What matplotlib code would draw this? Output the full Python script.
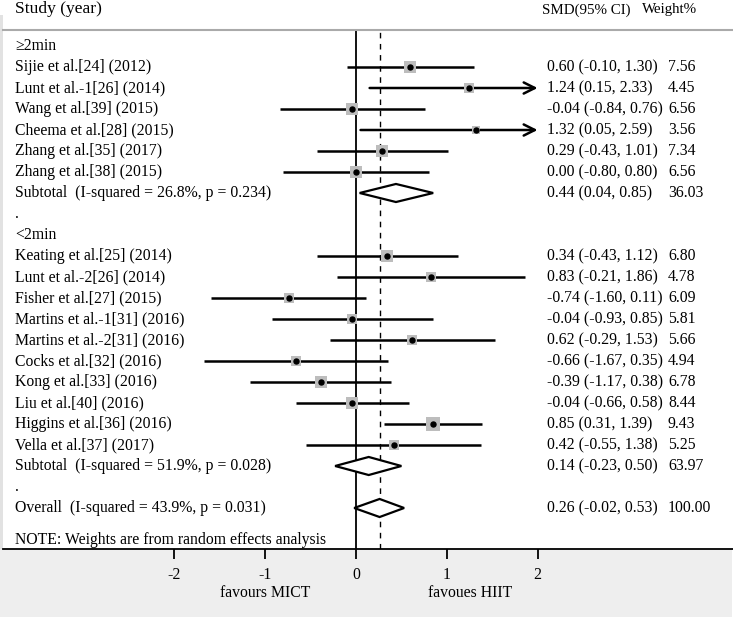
import matplotlib
matplotlib.use("Agg")
import matplotlib.pyplot as plt
from matplotlib.patches import Polygon, Rectangle
import numpy as np

plt.rcParams['font.family'] = ['Liberation Serif', 'DejaVu Serif']

# study level data, group >=2min
g1_names = ["Sijie et al.[24] (2012)", "Lunt et al.-1[26] (2014)", "Wang et al.[39] (2015)",
            "Cheema et al.[28] (2015)", "Zhang et al.[35] (2017)", "Zhang et al.[38] (2015)"]
g1_est = [0.60, 1.24, -0.04, 1.32, 0.29, 0.00]
g1_lo = [-0.10, 0.15, -0.84, 0.05, -0.43, -0.80]
g1_hi = [1.30, 2.33, 0.76, 2.59, 1.01, 0.80]
g1_w = [7.56, 4.45, 6.56, 3.56, 7.34, 6.56]

# group <2min
g2_names = ["Keating et al.[25] (2014)", "Lunt et al.-2[26] (2014)", "Fisher et al.[27] (2015)",
            "Martins et al.-1[31] (2016)", "Martins et al.-2[31] (2016)", "Cocks et al.[32] (2016)",
            "Kong et al.[33] (2016)", "Liu et al.[40] (2016)", "Higgins et al.[36] (2016)",
            "Vella et al.[37] (2017)"]
g2_est = [0.34, 0.83, -0.74, -0.04, 0.62, -0.66, -0.39, -0.04, 0.85, 0.42]
g2_lo = [-0.43, -0.21, -1.60, -0.93, -0.29, -1.67, -1.17, -0.66, 0.31, -0.55]
g2_hi = [1.12, 1.86, 0.11, 0.85, 1.53, 0.35, 0.38, 0.58, 1.39, 1.38]
g2_w = [6.80, 4.78, 6.09, 5.81, 5.66, 4.94, 6.78, 8.44, 9.43, 5.25]

# pooled rows: subtotal 1, subtotal 2, overall
pool_labels = ["Subtotal  (I-squared = 26.8%, p = 0.234)",
               "Subtotal  (I-squared = 51.9%, p = 0.028)",
               "Overall  (I-squared = 43.9%, p = 0.031)"]
pool_est = [0.44, 0.14, 0.26]
pool_lo = [0.04, -0.23, -0.02]
pool_hi = [0.85, 0.50, 0.53]
pool_w = [36.03, 63.97, 100.00]

ticks = [-2, -1, 0, 1, 2]
xmax_clip = 2.0

W, H = 733, 617
fig = plt.figure(figsize=(W / 100, H / 100), dpi=100)
fig.patch.set_facecolor('white')

# grey panels: bottom band and left strip
fig.patches.append(Rectangle((0, 0), 732 / W, (H - 549) / H, transform=fig.transFigure,
                             facecolor='#eeeeee', edgecolor='none', zorder=-5))
fig.patches.append(Rectangle((0, (H - 549) / H), 3 / W, (549 - 15) / H, transform=fig.transFigure,
                             facecolor='#e2e2e2', edgecolor='none', zorder=-5))

# axes: 0 at px 356, 90.8 px per unit; rows 21 px apart starting at px 46
px0, ppu = 356, 90.8
ax_l, ax_r, ax_t, ax_b = 3, 733, 30, 549
ax = fig.add_axes([ax_l / W, 1 - ax_b / H, (ax_r - ax_l) / W, (ax_b - ax_t) / H])
ax.set_xlim((ax_l - px0) / ppu, (ax_r - px0) / ppu)
ax.set_ylim((ax_b - 46) / 21, (ax_t - 46) / 21)

def xpx(p):
    return (p - px0) / ppu

fs = 11.3

def study_row(y, name, e, l, h, w):
    ax.text(xpx(15), y, name, va='center', ha='left', fontsize=fs)
    if h > xmax_clip:
        ax.annotate('', xy=(xmax_clip, y), xytext=(l, y),
                    arrowprops=dict(arrowstyle='->', lw=1.8, color='black',
                                    mutation_scale=20, shrinkA=0, shrinkB=0))
    else:
        ax.plot([l, h], [y, y], color='black', lw=1.8, solid_capstyle='butt', zorder=3)
    ax.plot(e, y, marker='s', markersize=3.1 * np.sqrt(w), color='#bdbdbd',
            markeredgewidth=0, zorder=4)
    ax.plot(e, y, marker='o', markersize=3.6, color='black', zorder=5)
    ax.text(xpx(547), y, f"{e:.2f} ({l:.2f}, {h:.2f})", va='center', ha='left', fontsize=fs)
    ax.text(xpx(668), y, f"{w:.2f}", va='center', ha='left', fontsize=fs)

def pool_row(y, i):
    ax.text(xpx(15), y, pool_labels[i], va='center', ha='left', fontsize=fs)
    hh = 0.43
    d = Polygon([[pool_lo[i], y], [pool_est[i], y - hh], [pool_hi[i], y], [pool_est[i], y + hh]],
                closed=True, facecolor='white', edgecolor='black', lw=1.6, zorder=4)
    ax.add_patch(d)
    ax.text(xpx(547), y, f"{pool_est[i]:.2f} ({pool_lo[i]:.2f}, {pool_hi[i]:.2f})",
            va='center', ha='left', fontsize=fs)
    ax.text(xpx(668), y, f"{pool_w[i]:.2f}", va='center', ha='left', fontsize=fs)

row = 0
ax.text(xpx(15), row, "≥2min", va='center', ha='left', fontsize=fs)
row += 1
for i in range(len(g1_names)):
    study_row(row, g1_names[i], g1_est[i], g1_lo[i], g1_hi[i], g1_w[i])
    row += 1
pool_row(row, 0)
row += 1
ax.text(xpx(15), row, ".", va='center', ha='left', fontsize=fs)
row += 1
ax.text(xpx(15), row, "<2min", va='center', ha='left', fontsize=fs)
row += 1
for i in range(len(g2_names)):
    study_row(row, g2_names[i], g2_est[i], g2_lo[i], g2_hi[i], g2_w[i])
    row += 1
pool_row(row, 1)
row += 1
ax.text(xpx(15), row, ".", va='center', ha='left', fontsize=fs)
row += 1
pool_row(row, 2)
ax.text(xpx(15), (540 - 46) / 21, "NOTE: Weights are from random effects analysis",
        va='center', ha='left', fontsize=fs)

# reference lines
ax.axvline(0, color='black', lw=1.3, zorder=2)
ax.axvline(pool_est[2], color='black', lw=1.0, ls=(0, (4, 4)), zorder=2)

# spines and ticks
for s in ['left', 'right']:
    ax.spines[s].set_visible(False)
ax.spines['top'].set_color('#aaaaaa')
ax.spines['top'].set_linewidth(1.5)
ax.spines['bottom'].set_color('black')
ax.spines['bottom'].set_linewidth(1.3)
ax.set_yticks([])
ax.set_xticks(ticks)
ax.set_xticklabels([str(t) for t in ticks])
ax.tick_params(axis='x', direction='out', length=7, width=1.3, pad=6, labelsize=fs)
ax.patch.set_facecolor('white')

tr = ax.get_xaxis_transform()
ax.text(-1, -44 / 519, "favours MICT", transform=tr, ha='center', va='center', fontsize=fs,
        clip_on=False)
ax.text(1.26, -44 / 519, "favoues HIIT", transform=tr, ha='center', va='center', fontsize=fs,
        clip_on=False)

# header
fig.text(15 / W, 1 - 9 / H, "Study (year)", ha='left', va='center', fontsize=12.6)
fig.text(542 / W, 1 - 10 / H, "SMD(95% CI)", ha='left', va='center', fontsize=10.8)
fig.text(642 / W, 1 - 10 / H, "Weight%", ha='left', va='center', fontsize=10.8)

fig.savefig("out.png", dpi=100)
